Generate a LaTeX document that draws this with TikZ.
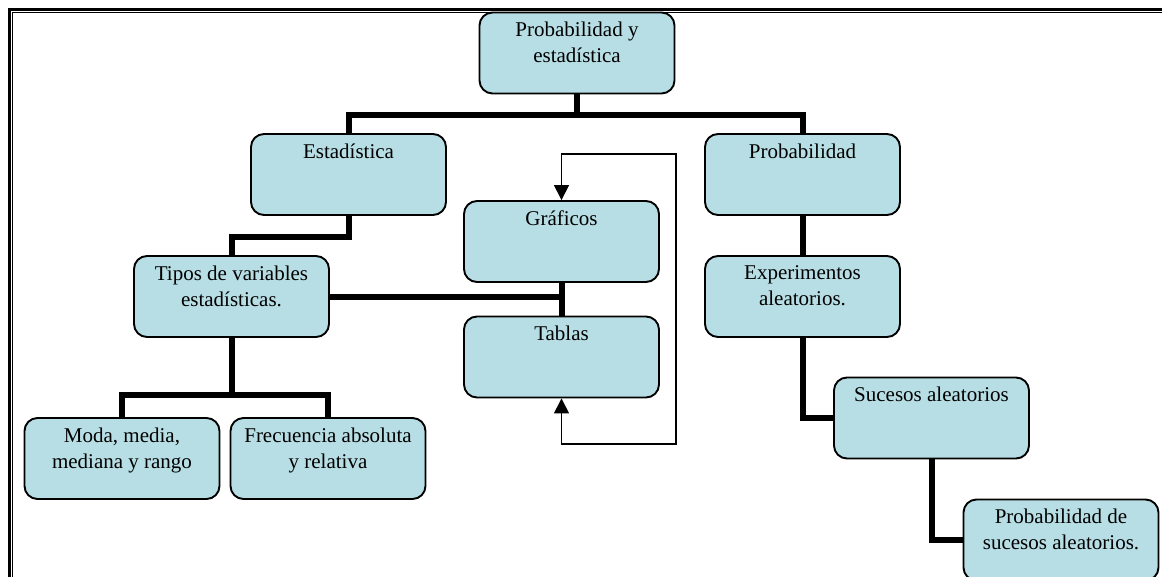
\documentclass[tikz,border=0pt]{standalone}
\usepackage{fontspec}
\setmainfont{Liberation Serif}
\usetikzlibrary{arrows.meta}
\definecolor{boxfill}{HTML}{B7DEE4}
\begin{document}
\begin{tikzpicture}[x=1pt,y=-1pt,
  cbox/.style={draw=black, line width=1.9pt, fill=boxfill, rounded corners=13pt,
    minimum width=195pt, minimum height=81pt, inner sep=0pt},
  ctext/.style={anchor=north, align=center, inner sep=0pt, font=\fontsize{21}{26}\selectfont},
  conn/.style={line width=6pt, line join=miter},
  loopline/.style={line width=1.5pt, {Triangle[width=15pt,length=15pt]}-{Triangle[width=15pt,length=15pt]}},
  frameout/.style={line width=3pt},
  framein/.style={line width=1.3pt}
]
\useasboundingbox (0,0) rectangle (1162,576);
\clip (0,0) rectangle (1162,576);
\fill[white] (0,0) rectangle (1162,576);
% frame
\draw[frameout] (9.5,9.5) rectangle (1200,620);
\draw[framein] (12.5,12.5) rectangle (1200,620);

% boxes
\node[cbox] (pe)   at (577,53)     {};
\node[cbox] (est)  at (348.5,174.5) {};
\node[cbox] (prob) at (802.5,174.5) {};
\node[cbox] (graf) at (561.5,241.5) {};
\node[cbox] (tab)  at (561.5,357)   {};
\node[cbox] (tipos) at (231.5,296.5) {};
\node[cbox] (exp)  at (802.5,296.5) {};
\node[cbox] (moda) at (122,458.5)   {};
\node[cbox] (frec) at (328,458.5)   {};
\node[cbox] (suc)  at (931.5,418)   {};
\node[cbox] (pds)  at (1061,540)    {};

% texts
\node[ctext] (pe-t)   at ([yshift=-10.5pt]pe.north)   {Probabilidad y\\estadística};
\node[ctext] (est-t)  at ([yshift=-10.5pt]est.north)  {Estadística};
\node[ctext] (prob-t) at ([yshift=-10.5pt]prob.north) {Probabilidad};
\node[ctext] (graf-t) at ([yshift=-10.5pt]graf.north) {Gráficos};
\node[ctext] (tab-t)  at ([yshift=-10.5pt]tab.north)  {Tablas};
\node[ctext] (tipos-t) at ([yshift=-10.5pt]tipos.north) {Tipos de variables\\estadísticas.};
\node[ctext] (exp-t)  at ([yshift=-10.5pt]exp.north)  {Experimentos\\aleatorios.};
\node[ctext] (moda-t) at ([yshift=-10.5pt]moda.north) {Moda, media,\\mediana y rango};
\node[ctext] (frec-t) at ([yshift=-10.5pt]frec.north) {Frecuencia absoluta\\y relativa};
\node[ctext] (suc-t)  at ([yshift=-10.5pt]suc.north)  {Sucesos aleatorios};
\node[ctext] (pds-t)  at ([yshift=-10.5pt]pds.north)  {Probabilidad de\\sucesos aleatorios.};

% junctions
\coordinate (j1) at (577,114.5);
\coordinate (j3) at (231.5,395);
\coordinate (lt) at (676,154);
\coordinate (lb) at (676,444);

% thick connectors
\draw[conn] (pe.south) -- (j1);
\draw[conn] (est.north) |- (j1) -| (prob.north);
\draw[conn] (est.south) -- ++(0,21.5) -| (tipos.north);
\draw[conn] (tipos.east) -- (tipos.east -| graf.south);
\draw[conn] (graf.south) -- (tab.north);
\draw[conn] (tipos.south) -- (j3);
\draw[conn] (moda.north) |- (j3) -| (frec.north);
\draw[conn] (prob.south) -- (exp.north);
\draw[conn] (exp.south) |- (suc.west);
\draw[conn] (suc.south) |- (pds.west);

% thin loop with arrows
\draw[loopline] (tab.south) -- (tab.south |- lb) -- (lb) -- (lt) -- (graf.north |- lt) -- (graf.north);
\end{tikzpicture}
\end{document}
